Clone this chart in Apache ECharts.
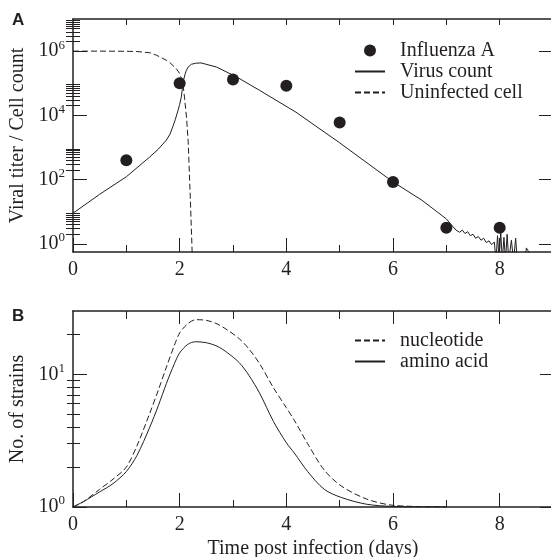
<!DOCTYPE html>
<html>
<head>
<meta charset="utf-8">
<script src="https://cdn.jsdelivr.net/npm/echarts@6.0.0/dist/echarts.min.js"></script>
<style>
  html, body { margin: 0; padding: 0; background: #fff; }
  #chart { width: 551px; height: 557px; }
</style>
</head>
<body>
<div id="chart"></div>
<script>
// panel A: measured titer (dots) and model curves
const fluDays = [1, 2, 3, 4, 5, 6, 7, 8];
const fluTiter = [400, 1.0e5, 1.3e5, 8.3e4, 6.0e3, 85, 3.2, 3.2];

const virusDays = [0, 0.5, 1.0, 1.44, 1.6, 1.75, 1.82, 1.87, 1.92, 1.97, 2.0, 2.03, 2.05, 2.07, 2.1, 2.125, 2.16, 2.22, 2.3, 2.4, 2.69, 3.06, 3.5, 4.18, 5.0, 6.0, 6.54, 7.0, 7.18,
  7.25, 7.3, 7.35, 7.4, 7.45, 7.5, 7.55, 7.6, 7.65, 7.7, 7.75, 7.8, 7.85, 7.9, 7.93, 7.96, 7.99, 8.02, 8.05, 8.08, 8.11, 8.14, 8.17, 8.22, 8.26, 8.3, 8.33,
  8.48, 8.5, 8.65];
const virusCount = [9, 35, 123, 510, 890, 1700, 2630, 4400, 7600, 1.45e4, 2.2e4, 3.7e4, 6.8e4, 1.2e5, 1.9e5, 2.5e5, 3.2e5, 3.9e5, 4.2e5, 4.3e5, 3.2e5, 1.6e5, 6.0e4, 1.26e4, 1400, 85, 23, 6, 2.7,
  2.3, 2.7, 2.1, 2.4, 1.8, 2.0, 1.5, 1.7, 1.3, 1.5, 1.1, 1.25, 0.95, 1.15, 0.3, 1.8, 0.3, 2.3, 0.3, 1.6, 0.3, 2.0, 0.3, 1.3, 0.3, 1.5, 0.3,
  0.3, 0.75, 0.3];

const cellDays = [0, 0.5, 1.0, 1.2, 1.44, 1.57, 1.75, 1.81, 1.94, 2.0, 2.06, 2.09, 2.13, 2.16, 2.2, 2.23, 2.25];
const cellCount = [1e6, 1e6, 9.9e5, 9.7e5, 8.9e5, 7.4e5, 5.2e5, 4.5e5, 2.8e5, 2.0e5, 1.0e5, 3.7e4, 8.0e3, 1.5e3, 25, 0.9, 0.05];

// panel B: number of strains
const strainDays = [0, 0.2, 0.5, 0.75, 1.0, 1.2, 1.44, 1.6, 1.75, 1.9, 2.0, 2.15, 2.3, 2.5, 2.7, 2.9, 3.12, 3.3, 3.5, 3.76, 4.0, 4.15, 4.4, 4.71, 5.03, 5.5, 6.0, 7.0];
const aminoAcid = [1, 1.1, 1.3, 1.5, 1.85, 2.45, 4.0, 5.8, 8.5, 12, 14.5, 16.8, 17.6, 17.3, 16.3, 14.5, 12.2, 9.8, 7.2, 4.4, 3.05, 2.55, 1.85, 1.36, 1.18, 1.05, 1.01, 1.0];
const nucleotide = [1, 1.1, 1.36, 1.62, 2.0, 2.9, 5.1, 7.6, 11.3, 16.5, 20.5, 24, 25.8, 25.5, 24, 21.5, 18.5, 15.5, 12, 7.9, 5.6, 4.5, 3.0, 1.9, 1.44, 1.15, 1.03, 1.0];

// ticks
const dayLabels = [0, 2, 4, 6, 8];
const dayMinor = [1, 3, 5, 7];
const dayAll = [1, 2, 3, 4, 5, 6, 7, 8];
const titerMajor = [1, 1e2, 1e4, 1e6];
const titerMinor = titerMajor.flatMap(d => [2, 3, 4, 5, 6, 7, 8, 9].map(k => k * d));
const strainMajor = [1, 10];
const strainMinor = [2, 3, 4, 5, 6, 7, 8, 9, 20];

const ink = '#231f20';
const serif = 'Liberation Serif';

const grids = [
  { left: 73, top: 19, width: 480, height: 233, outerBoundsMode: 'none' },
  { left: 73, top: 311, width: 480, height: 196, outerBoundsMode: 'none' }
];

const xAxes = [];
const yAxes = [];

// one axis = one set of ticks; the extra ones carry the minor ticks and the box sides
function xAxis(g, pos, ticks, len, extra) {
  xAxes.push(Object.assign({
    gridIndex: g, type: 'value', min: 0, max: 9, position: pos,
    axisLine: { show: true, onZero: false, lineStyle: { color: ink, width: 1.5 } },
    axisTick: { inside: true, length: len, customValues: ticks, lineStyle: { color: ink, width: 1 } },
    axisLabel: { show: false },
    splitLine: { show: false }
  }, extra || {}));
  return xAxes.length - 1;
}

function yAxis(g, pos, min, max, ticks, len, extra) {
  yAxes.push(Object.assign({
    gridIndex: g, type: 'log', logBase: 10, min: min, max: max, position: pos,
    axisLine: { show: true, onZero: false, lineStyle: { color: ink, width: 1.5 } },
    axisTick: { inside: true, length: len, customValues: ticks, lineStyle: { color: ink, width: 1 } },
    axisLabel: { show: false },
    splitLine: { show: false }
  }, extra || {}));
  return yAxes.length - 1;
}

const dayLabel = {
  show: true, customValues: dayLabels, margin: 8,
  fontFamily: serif, fontSize: 20, color: ink
};

function powLabel(ticks) {
  return {
    show: true, customValues: ticks, margin: 8,
    formatter: v => '10{s|' + Math.round(Math.log10(v)) + '}',
    fontFamily: serif, fontSize: 20, color: ink,
    rich: { s: { fontFamily: serif, fontSize: 13, color: ink, padding: [0, 0, 12, 0] } }
  };
}

const nameStyle = { fontFamily: serif, fontSize: 20, color: ink };

// panel A axes
const axA = xAxis(0, 'bottom', dayLabels, 14, { axisLabel: dayLabel });
xAxis(0, 'bottom', dayMinor, 7, { axisLine: { show: false } });
xAxis(0, 'top', dayAll, 6);
const ayA = yAxis(0, 'left', 0.56, 1e7, titerMajor, 14, {
  axisLabel: powLabel(titerMajor),
  name: 'Viral titer / Cell count', nameLocation: 'middle', nameGap: 45, nameTextStyle: nameStyle
});
yAxis(0, 'left', 0.56, 1e7, titerMinor, 7, { axisLine: { show: false } });
yAxis(0, 'right', 0.56, 1e7, titerMajor, 14);
yAxis(0, 'right', 0.56, 1e7, titerMinor, 7, { axisLine: { show: false } });

// panel B axes
const axB = xAxis(1, 'bottom', dayLabels, 14, {
  axisLabel: dayLabel,
  name: 'Time post infection (days)', nameLocation: 'middle', nameGap: 32, nameTextStyle: nameStyle
});
xAxis(1, 'bottom', dayMinor, 7, { axisLine: { show: false } });
xAxis(1, 'top', [2, 4, 6, 8], 13);
xAxis(1, 'top', dayMinor, 8, { axisLine: { show: false } });
const ayB = yAxis(1, 'left', 1, 30, strainMajor, 14, {
  axisLabel: powLabel(strainMajor),
  name: 'No. of strains', nameLocation: 'middle', nameGap: 45, nameTextStyle: nameStyle
});
yAxis(1, 'left', 1, 30, strainMinor, 7, { axisLine: { show: false } });
yAxis(1, 'right', 1, 30, strainMajor, 13);
yAxis(1, 'right', 1, 30, strainMinor, 6, { axisLine: { show: false } });

function pairs(xs, ys) {
  return xs.map((x, i) => [x, ys[i]]);
}

function curve(name, xi, yi, xs, ys, dashed, smooth) {
  return {
    name: name, type: 'line', xAxisIndex: xi, yAxisIndex: yi,
    data: pairs(xs, ys), symbol: 'none', clip: true, smooth: smooth || false,
    lineStyle: { color: ink, width: 1, type: dashed ? [6, 3] : 'solid' },
    itemStyle: { color: ink }
  };
}

const legendText = { fontFamily: serif, fontSize: 20, color: ink, lineHeight: 21, padding: [0, 0, 0, 10] };
// line entries: keep the stroke, hide the dot ECharts adds to line icons
const lineItem = name => ({ name: name, itemStyle: { opacity: 0 } });

const chart = echarts.init(document.getElementById('chart'), null, { renderer: 'canvas' });
chart.setOption({
  animation: false,
  backgroundColor: '#fff',
  title: [
    { text: 'A', left: 12, top: 12, padding: 0, textStyle: { fontFamily: 'Liberation Sans', fontWeight: 'bold', fontSize: 17, color: ink } },
    { text: 'B', left: 12, top: 308, padding: 0, textStyle: { fontFamily: 'Liberation Sans', fontWeight: 'bold', fontSize: 17, color: ink } }
  ],
  grid: grids,
  xAxis: xAxes,
  yAxis: yAxes,
  legend: [
    {
      data: ['Influenza A', lineItem('Virus count'), lineItem('Uninfected cell')],
      orient: 'vertical', left: 354, top: 40, padding: 0,
      itemWidth: 30, itemHeight: 12, itemGap: 0, textStyle: legendText
    },
    {
      data: [lineItem('nucleotide'), lineItem('amino acid')],
      orient: 'vertical', left: 354, top: 330, padding: 0,
      itemWidth: 30, itemHeight: 12, itemGap: 0, textStyle: legendText
    }
  ],
  series: [
    {
      name: 'Influenza A', type: 'scatter', xAxisIndex: axA, yAxisIndex: ayA,
      data: pairs(fluDays, fluTiter), symbol: 'circle', symbolSize: 12,
      itemStyle: { color: ink, opacity: 1 }
    },
    curve('Virus count', axA, ayA, virusDays, virusCount, false),
    curve('Uninfected cell', axA, ayA, cellDays, cellCount, true),
    curve('nucleotide', axB, ayB, strainDays, nucleotide, true, 0.3),
    curve('amino acid', axB, ayB, strainDays, aminoAcid, false, 0.3)
  ]
});
</script>
</body>
</html>
